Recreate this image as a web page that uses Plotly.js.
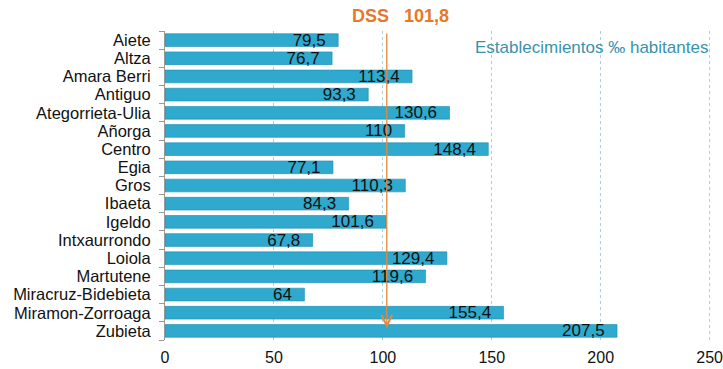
<!DOCTYPE html>
<html>
<head>
<meta charset="utf-8">
<script src="https://cdn.plot.ly/plotly-3.0.1.min.js"></script>
<style>html,body{margin:0;padding:0;background:#fff;}#chart{width:723px;height:369px;}</style>
</head>
<body>
<div id="chart"></div>
<script>
const barrios = ["Aiete","Altza","Amara Berri","Antiguo","Ategorrieta-Ulia","Añorga","Centro","Egia","Gros","Ibaeta","Igeldo","Intxaurrondo","Loiola","Martutene","Miracruz-Bidebieta","Miramon-Zorroaga","Zubieta"];
const valores = [79.5,76.7,113.4,93.3,130.6,110,148.4,77.1,110.3,84.3,101.6,67.8,129.4,119.6,64,155.4,207.5];
const dss = 101.8;
const dssLabel = "DSS   101,8";
const unidad = "Establecimientos ‰ habitantes";
const xTicks = [0,50,100,150,200,250];

const labels = valores.map(v => String(v).replace('.', ',') + '\u00a0\u00a0');
const FONT = 'Liberation Sans, Arial, sans-serif';

const trace = {
  type: 'bar',
  orientation: 'h',
  y: barrios,
  x: valores,
  text: labels,
  textposition: 'inside',
  insidetextanchor: 'end',
  textangle: 0,
  constraintext: 'none',
  textfont: {family: FONT, size: 17, color: '#111'},
  marker: {color: '#2fa9cd', line: {color: '#1d8db0', width: 0.6}},
  hoverinfo: 'none'
};

const layout = {
  width: 723, height: 369,
  margin: {l: 165, r: 9, t: 31, b: 29},
  paper_bgcolor: '#fff', plot_bgcolor: '#fff',
  bargap: 0.3,
  showlegend: false,
  font: {family: FONT, color: '#111'},
  xaxis: {
    range: [0, 252],
    tickmode: 'array',
    tickvals: xTicks,
    ticktext: xTicks.map(String),
    showgrid: true,
    gridcolor: '#9fd3e6',
    griddash: 'dot',
    gridwidth: 1,
    zeroline: false,
    showline: false,
    ticks: '',
    tickfont: {size: 16, color: '#111'},
    ticklabelstandoff: 6,
    ticklabeloverflow: 'allow',
    fixedrange: true
  },
  yaxis: {
    autorange: 'reversed',
    type: 'category',
    tickmode: 'array',
    tickvals: barrios,
    ticktext: barrios,
    showline: true,
    linecolor: '#999',
    linewidth: 1,
    ticks: 'outside',
    tickson: 'boundaries',
    ticklen: 5,
    tickcolor: '#999',
    showgrid: false,
    tickfont: {size: 16.5, color: '#111'},
    ticklabelstandoff: 10,
    fixedrange: true
  },
  annotations: [
    {
      x: dss, y: barrios[barrios.length - 1], xref: 'x', yref: 'y',
      yshift: 3,
      ax: 0, ay: -296, axref: 'pixel', ayref: 'pixel',
      text: '', showarrow: true,
      arrowhead: 5, arrowsize: 1.6, arrowwidth: 1.3, arrowcolor: '#e8883a'
    },
    {
      x: dss, y: 1, xref: 'x', yref: 'paper',
      xshift: 14, yshift: 3,
      yanchor: 'bottom', xanchor: 'center',
      text: '<b>' + dssLabel + '</b>', showarrow: false,
      font: {size: 18, color: '#e8772a', family: FONT}
    },
    {
      x: 250, y: 1, xref: 'x', yref: 'paper',
      xanchor: 'right', yanchor: 'top', yshift: -5,
      text: unidad, showarrow: false,
      font: {size: 17, color: '#3a92ab', family: FONT}
    }
  ]
};

Plotly.newPlot('chart', [trace], layout, {displayModeBar: false, staticPlot: true});
</script>
</body>
</html>
